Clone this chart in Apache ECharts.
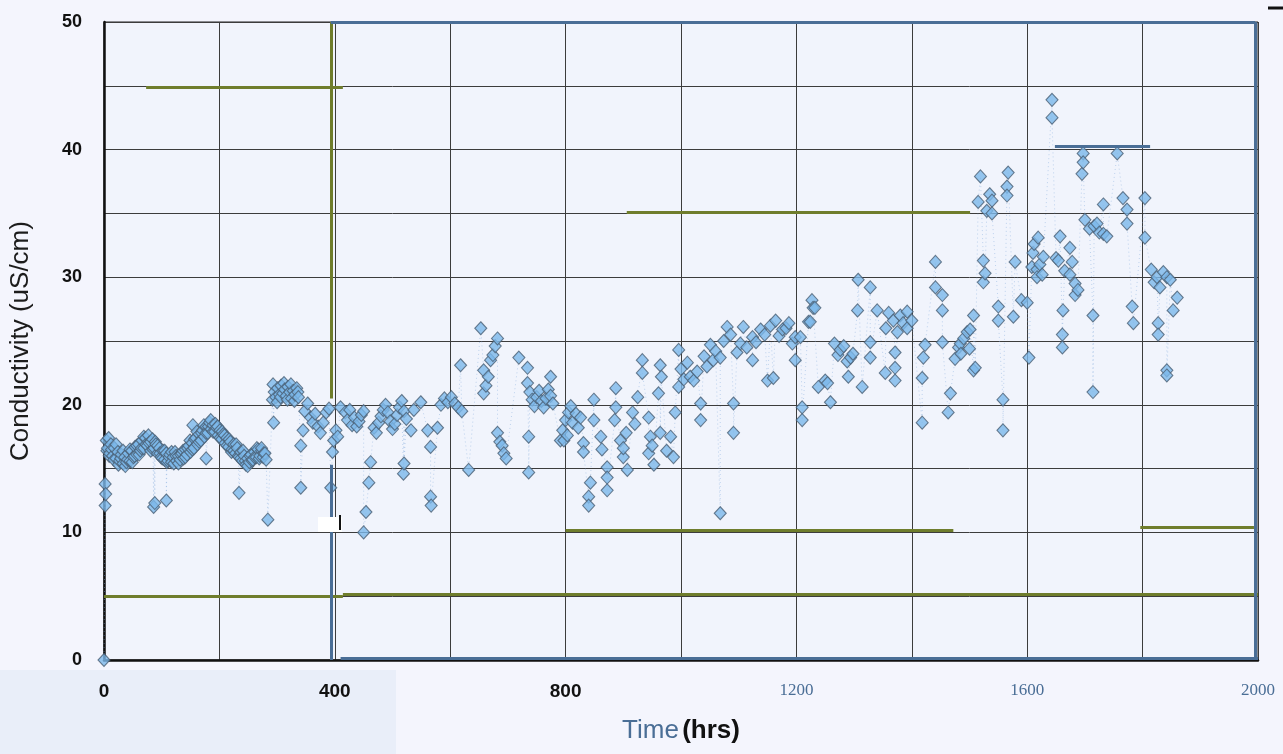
<!DOCTYPE html>
<html>
<head>
<meta charset="utf-8">
<script src="https://cdn.jsdelivr.net/npm/echarts@6/dist/echarts.min.js"></script>
<style>
html,body{margin:0;padding:0;background:#f4f5fd;}
#chart{width:1283px;height:754px;}
</style>
</head>
<body>
<div id="chart"></div>
<script>
// Time (hrs) and Conductivity (uS/cm)
const hrsA = [0,2,3,2,4,6,8,10,12,15,18,21,24,27,30,33,36,39,42,45,48,51,54,57,60,63,66,69,72,75,78,81,84,87,90,93,96,99,102,105,108,111,114,117,120,123,126,129,132,135,138,141,144,147,150,153,156,159,162,165,168,171,174,177,180,183,186,189,192,195,198,201,204,207,210,213,216,219,222,225,228,231,234,237,240,243,246,249,252,255,258,261,264,267,270,273,276,279];
const condA = [0,13.8,13.0,12.1,17.2,16.6,17.4,16.2,16.9,16.0,16.6,15.8,16.3,15.6,16.1,15.4,15.9,15.5,16.2,15.6,16.4,15.9,16.7,16.1,16.9,16.4,17.2,16.6,17.4,16.8,17.0,16.4,17.3,16.6,16.9,16.2,16.6,15.9,16.4,15.7,16.2,15.6,16.1,15.5,15.9,16.3,15.6,16.0,15.7,16.2,15.8,16.5,16.1,16.8,16.3,17.0,16.6,17.4,16.9,17.7,17.2,18.0,17.5,18.3,17.8,18.6,18.1,18.4,17.9,18.2,17.6,18.0,17.3,17.7,17.0,17.4,16.7,17.1,16.5,16.9,16.2,16.6,15.9,16.3,15.6,16.0,15.3,15.8,15.5,16.1,15.7,16.3,15.9,16.5,16.0,16.4,15.9,16.2];

const hrsA2 = [5,9,13,17,21,25,29,33,37,41,45,49,53,57,61,65,69,73,77,81,85,89,93,97,101,105,109,113,117,121,125,129,133,137,141,145,149,153,157,161,165,169,173,177,181,185,189,193,197,201,205,209,213,217,221,225,229,233,237,241,245,249,253,257,261,265,269,273,277,281,293,300,306,312,318,324,330,336];
const condA2 = [16.4,16.0,16.5,15.7,16.9,15.3,15.8,16.4,15.2,15.7,16.5,15.5,16.0,16.8,16.1,16.6,17.5,16.9,17.6,17.1,16.5,17.1,16.8,16.2,15.8,16.4,15.5,15.9,16.3,15.4,16.0,15.4,16.1,16.4,15.9,16.6,17.2,16.5,17.3,17.9,17.1,17.8,18.4,17.8,18.3,18.8,17.9,18.5,18.3,17.4,17.9,17.6,16.8,17.3,16.3,16.4,16.9,16.0,15.8,16.4,15.6,15.2,16.0,15.6,15.9,16.6,15.8,16.6,16.2,15.7,21.6,20.2,20.6,21.7,20.4,21.6,20.3,21.0];

const hrsB = [86,88,108,154,177,234,284,294,292,295,298,301,304,307,310,313,316,319,322,325,328,331,334,337,341,341,345,348,353,358,362,366,371,375,380,385,390,393,396,398,402,405,410,418,422,426,430,434,438,442,446,450,450,454,459,462,468,472,476,480,484,488,492,496,500,504,508,512,516,520,520,519,524,532,537,549,561,566,566,567,578,584,590,596,602,608,614,618,620,632,653,658,658,662,666,670,674,678,682,682,686,690,693,697,719,734,734,736,736,738,742,746,750,754,758,762,766,770,774,774,778,791,795,800,803,805,809];
const condB = [12.0,12.3,12.5,18.4,15.8,13.1,11.0,18.6,20.4,21.0,20.6,21.3,20.8,21.5,20.9,21.2,20.7,21.4,21.0,20.5,21.1,20.8,21.3,20.6,16.8,13.5,18.0,19.5,20.1,19.0,18.6,19.3,18.3,17.8,18.6,19.4,19.7,13.5,16.3,17.2,18.0,17.5,19.8,19.4,18.8,19.6,18.4,19.0,18.3,18.7,19.2,19.5,10.0,11.6,13.9,15.5,18.2,17.8,18.6,19.1,19.6,20.0,19.4,18.7,18.1,18.5,19.2,19.8,20.3,19.5,15.4,14.6,18.9,18.0,19.6,20.2,18.0,16.7,12.8,12.1,18.2,20.0,20.5,20.2,20.6,20.1,19.8,23.1,19.5,14.9,26.0,22.7,20.9,21.5,22.2,23.5,23.9,24.6,25.2,17.8,17.1,16.8,16.2,15.8,23.7,22.9,21.7,17.5,14.7,21.0,20.4,19.9,20.6,21.1,20.3,19.8,20.5,21.2,20.7,22.2,20.1,17.2,18.0,18.8,17.6,19.4,19.9];

const hrsC = [797,812,818,822,826,831,831,840,840,843,849,849,861,863,872,872,872,885,887,887,895,900,900,905,907,916,920,925,933,933,944,944,947,950,953,961,964,964,966,975,982,987,990,996,996,1000,1005,1011,1016,1022,1028,1034,1034,1040,1045,1051,1056,1060,1068,1068,1074,1080,1086,1091,1091,1097,1103,1108,1114,1124,1124,1130,1138,1145,1150,1155,1160,1164,1170,1176,1182,1187,1193,1198,1198,1207,1210,1210,1221,1224,1227,1229,1232,1238];
const condC = [17.2,18.6,19.3,18.2,19.0,17.0,16.3,12.8,12.1,13.9,20.4,18.8,17.5,16.5,15.1,14.3,13.3,18.8,21.3,19.8,17.2,15.9,16.6,17.8,14.9,19.4,18.5,20.6,23.5,22.5,19.0,16.2,17.5,16.8,15.3,20.9,23.1,17.8,22.2,16.4,17.5,15.9,19.4,24.3,21.4,22.8,22.0,23.3,22.2,21.9,22.6,20.1,18.8,23.8,23.0,24.7,23.5,24.2,11.5,23.7,25.0,26.1,25.5,20.1,17.8,24.1,24.8,26.1,24.5,23.5,25.3,24.9,25.9,25.5,21.9,26.2,22.1,26.6,25.4,25.9,26.0,26.4,24.8,25.3,23.5,25.3,19.8,18.8,26.5,26.5,28.2,27.6,27.6,21.4];

const hrsD = [1250,1254,1259,1266,1272,1276,1282,1288,1290,1294,1298,1306,1307,1314,1328,1328,1328,1340,1354,1355,1360,1368,1371,1371,1371,1375,1380,1385,1392,1392,1400,1418,1418,1420,1423,1441,1441,1453,1453,1453,1463,1467,1475,1481,1484,1485,1490,1496,1500,1501,1507,1507,1510,1515,1519,1524,1524,1527,1530,1535,1539,1539,1550,1550,1558,1558,1565,1565,1567,1576,1579,1590,1600,1603,1608,1610,1612,1617,1617,1619,1622,1626,1628];
const condD = [21.9,21.7,20.2,24.8,23.9,24.3,24.6,23.4,22.2,23.7,24.0,27.4,29.8,21.4,29.2,24.9,23.7,27.4,22.5,26.0,27.2,26.6,24.1,22.9,21.9,25.7,27.0,26.4,27.3,26.0,26.6,18.6,22.1,23.7,24.7,31.2,29.2,28.6,27.4,24.9,19.4,20.9,23.6,24.5,24.8,24.0,25.2,25.7,24.4,25.9,22.7,27.0,22.9,35.9,37.9,31.3,29.6,30.3,35.2,36.5,36.0,35.0,27.7,26.6,20.4,18.0,37.1,36.4,38.2,26.9,31.2,28.2,28.0,23.7,30.8,31.9,32.6,30.6,30.0,33.1,31.0,30.2,31.6];

const hrsE = [1643,1643,1650,1654,1657,1661,1661,1662,1665,1674,1674,1678,1683,1683,1688,1695,1697,1697,1700,1708,1714,1714,1716,1721,1725,1732,1732,1738,1756,1766,1773,1773,1782,1784,1804,1804,1815,1820,1825,1827,1827,1830,1836,1842,1842,1842,1848,1853,1860];
const condE = [43.9,42.5,31.5,31.3,33.2,25.5,24.5,27.4,30.5,32.3,30.2,31.2,29.5,28.6,29.0,38.1,39.7,39.0,34.5,33.8,27.0,21.0,34.0,34.2,33.5,35.7,33.4,33.2,39.7,36.2,35.3,34.2,27.7,26.4,36.2,33.1,30.6,29.6,30.0,26.4,25.5,29.2,30.4,30.0,22.7,22.3,29.8,27.4,28.4];

const hours = [].concat(hrsA, hrsA2, hrsB, hrsC, hrsD, hrsE);
const conductivity = [].concat(condA, condA2, condB, condC, condD, condE);

const xTicks = [0, 400, 800, 1200, 1600, 2000];
const yTicks = [0, 10, 20, 30, 40, 50];

const points = hours.map((h, i) => [h, conductivity[i]]).sort((a, b) => a[0] - b[0]);

const OLIVE = '#6f7d2c';
const STEEL = '#4a6e96';

const chart = echarts.init(document.getElementById('chart'), null, {renderer: 'canvas'});
chart.setOption({
  animation: false,
  backgroundColor: '#f4f5fd',
  grid: {left: 103, right: 25, top: 22, bottom: 94, show: true, backgroundColor: '#f1f4fc', borderColor: '#222', borderWidth: 1},
  xAxis: {
    type: 'value', min: 0, max: 2000, interval: 200,
    axisLine: {show: true, onZero: false, lineStyle: {color: '#111', width: 2.5}},
    axisTick: {show: false},
    splitLine: {show: true, lineStyle: {color: '#3c3c3c', width: 1}},
    axisLabel: {
      margin: 22,
      formatter: v => xTicks.includes(v) ? (v < 1000 ? '{a|' + v + '}' : '{b|' + v + '}') : '',
      rich: {
        a: {fontFamily: 'Liberation Sans', fontWeight: 'bold', fontSize: 19, color: '#111'},
        b: {fontFamily: 'Liberation Serif', fontSize: 17, color: STEEL}
      }
    },
    name: '{t|Time} {h|(hrs)}',
    nameLocation: 'middle', nameGap: 58,
    nameTextStyle: {
      rich: {
        t: {fontFamily: 'Liberation Sans Narrow, Liberation Sans', fontSize: 26, color: STEEL},
        h: {fontFamily: 'Liberation Sans Narrow, Liberation Sans', fontWeight: 'bold', fontSize: 26, color: '#111'}
      }
    }
  },
  yAxis: {
    type: 'value', min: 0, max: 50, interval: 5,
    axisLine: {show: true, lineStyle: {color: '#111', width: 2.5}},
    axisTick: {show: false},
    splitLine: {show: true, lineStyle: {color: '#3c3c3c', width: 1}},
    axisLabel: {
      margin: 22,
      formatter: v => yTicks.includes(v) ? String(v) : '',
      fontFamily: 'Liberation Sans', fontWeight: 'bold', fontSize: 18, color: '#111'
    },
    name: 'Conductivity (uS/cm)',
    nameLocation: 'middle', nameGap: 70,
    nameTextStyle: {fontFamily: 'Liberation Sans', fontSize: 26, color: '#1c1c1c'}
  },
  series: [
    {
      type: 'line', data: points, symbol: 'none', silent: true, z: 2,
      lineStyle: {color: '#7ea8dc', width: 1, type: [1, 3], opacity: 0.45}
    },
    {
      type: 'scatter', data: points, symbol: 'diamond', symbolSize: [12, 13], z: 3,
      itemStyle: {color: '#7cb8ea', borderColor: '#4a5f74', borderWidth: 1.1}
    },
    {
      type: 'scatter', data: [], z: 5,
      markLine: {
        silent: true, symbol: ['none', 'none'], label: {show: false}, animation: false,
        data: [
          [{coord: [73, 44.85], lineStyle: {color: OLIVE, width: 3, type: 'solid'}}, {coord: [414, 44.85]}],
          [{coord: [393, 50], lineStyle: {color: OLIVE, width: 3, type: 'solid'}}, {coord: [393, 20.5]}],
          [{coord: [906, 35.1], lineStyle: {color: OLIVE, width: 3, type: 'solid'}}, {coord: [1501, 35.1]}],
          [{coord: [800, 10.2], lineStyle: {color: OLIVE, width: 3, type: 'solid'}}, {coord: [1472, 10.2]}],
          [{coord: [1796, 10.4], lineStyle: {color: OLIVE, width: 3, type: 'solid'}}, {coord: [1993, 10.4]}],
          [{coord: [0, 5.0], lineStyle: {color: OLIVE, width: 3, type: 'solid'}}, {coord: [414, 5.0]}],
          [{coord: [414, 5.15], lineStyle: {color: OLIVE, width: 3, type: 'solid'}}, {coord: [2000, 5.15]}],
          [{coord: [393, 50], lineStyle: {color: STEEL, width: 3, type: 'solid'}}, {coord: [1995, 50]}],
          [{coord: [1995, 50], lineStyle: {color: STEEL, width: 3, type: 'solid'}}, {coord: [1995, 0]}],
          [{coord: [410, 0.15], lineStyle: {color: STEEL, width: 3, type: 'solid'}}, {coord: [2000, 0.15]}],
          [{coord: [393, 15.3], lineStyle: {color: STEEL, width: 3, type: 'solid'}}, {coord: [393, 0]}],
          [{coord: [1648, 40.3], lineStyle: {color: STEEL, width: 3, type: 'solid'}}, {coord: [1813, 40.3]}]
        ]
      }
    }
  ],
  graphic: [
    {type: 'rect', z: -10, silent: true, shape: {x: 0, y: 670, width: 396, height: 84}, style: {fill: '#e9eef9'}},
    {type: 'rect', z: 10, silent: true, shape: {x: 318, y: 517, width: 24, height: 15}, style: {fill: '#ffffff'}},
    {type: 'line', z: 11, silent: true, shape: {x1: 340, y1: 515, x2: 340, y2: 530}, style: {stroke: '#111', lineWidth: 2}},
    {type: 'line', z: 11, silent: true, shape: {x1: 1268, y1: 8, x2: 1283, y2: 8}, style: {stroke: '#111', lineWidth: 3}}
  ]
});
</script>
</body>
</html>
